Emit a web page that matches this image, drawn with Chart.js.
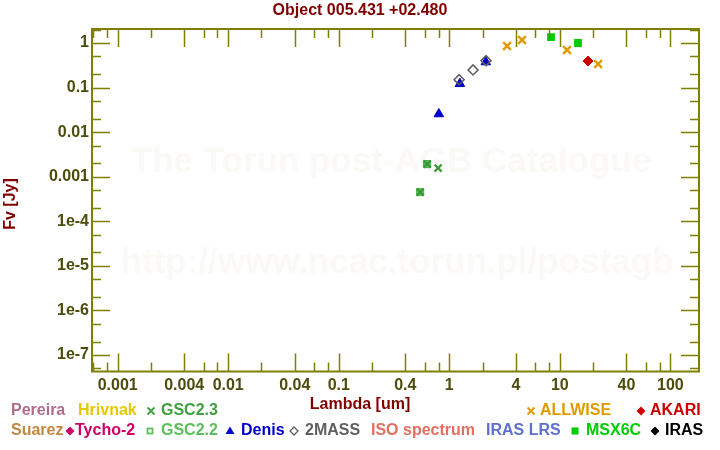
<!DOCTYPE html>
<html>
<head>
<meta charset="utf-8">
<script src="https://cdn.jsdelivr.net/npm/chart.js@4/dist/chart.umd.min.js"></script>
<style>
  body { margin: 0; background: #fff; }
  #wrap { width: 720px; height: 450px; }
</style>
</head>
<body>
<div id="wrap"><canvas id="sed" width="720" height="450"></canvas></div>
<script>
// photometry, wavelength in um, flux in Jy
const gsc23Lambda = [0.545, 0.630, 0.792];
const gsc23Flux = [4.51e-4, 1.92e-3, 1.56e-3];
const gsc22Lambda = [0.545, 0.630];
const gsc22Flux = [4.51e-4, 1.92e-3];
const denisLambda = [0.804, 1.247, 2.14];
const denisFlux = [0.0255, 0.122, 0.374];
const tmassLambda = [1.226, 1.64, 2.15];
const tmassFlux = [0.150, 0.248, 0.401];
const allwiseLambda = [3.33, 4.55, 11.6, 22.2];
const allwiseFlux = [0.856, 1.17, 0.697, 0.338];
const msxLambda = [8.32, 14.6];
const msxFlux = [1.36, 1.0];
const akariLambda = [18.0];
const akariFlux = [0.394];

// axis ticks
const xTickValues = [0.001, 0.004, 0.01, 0.04, 0.1, 0.4, 1, 4, 10, 40, 100];
const xTickLabels = ['0.001', '0.004', '0.01', '0.04', '0.1', '0.4', '1', '4', '10', '40', '100'];
const yTickValues = [1, 0.1, 0.01, 0.001, 1e-4, 1e-5, 1e-6, 1e-7];
const yTickLabels = ['1', '0.1', '0.01', '0.001', '1e-4', '1e-5', '1e-6', '1e-7'];

const AXIS = '#808000';
const TICKTXT = '#4c4c0c';
const DARKRED = '#800000';
const FONT = '"Liberation Sans", Arial, sans-serif';

const pts = (xs, ys) => xs.map((v, i) => ({ x: v, y: ys[i] }));

// legend rows: [text, color, marker, markerX, textX]
const legendRow1 = [
    ['Pereira', '#b06c8c', null, 0, 11],
    ['Hrivnak', '#e6c800', null, 0, 78],
    ['GSC2.3', '#40a040', 'cross', 151, 161],
    ['ALLWISE', '#e09a00', 'cross', 531, 540],
    ['AKARI', '#cc0000', 'diamond', 641, 650]
];
const legendRow2 = [
    ['Suarez', '#c08840', null, 0, 11],
    ['Tycho-2', '#cc0066', 'diamond', 70, 75],
    ['GSC2.2', '#5cc05c', 'square', 150, 161],
    ['Denis', '#0000cc', 'triangle', 230, 241],
    ['2MASS', '#606060', 'odiamond', 294, 305],
    ['ISO spectrum', '#e07060', null, 0, 371],
    ['IRAS LRS', '#6070d0', null, 0, 486],
    ['MSX6C', '#00cc00', 'fsquare', 575, 586],
    ['IRAS', '#000000', 'diamond', 655, 665]
];

function marker(ctx, kind, x, y, color) {
    ctx.fillStyle = color;
    ctx.strokeStyle = color;
    ctx.lineWidth = 1.8;
    ctx.beginPath();
    if (kind === 'cross') {
        ctx.moveTo(x - 3.5, y - 3.5); ctx.lineTo(x + 3.5, y + 3.5);
        ctx.moveTo(x + 3.5, y - 3.5); ctx.lineTo(x - 3.5, y + 3.5);
        ctx.stroke();
    } else if (kind === 'diamond') {
        ctx.moveTo(x, y - 4.5); ctx.lineTo(x + 4.5, y); ctx.lineTo(x, y + 4.5); ctx.lineTo(x - 4.5, y);
        ctx.closePath(); ctx.fill();
    } else if (kind === 'odiamond') {
        ctx.lineWidth = 1.3;
        ctx.moveTo(x, y - 4); ctx.lineTo(x + 4, y); ctx.lineTo(x, y + 4); ctx.lineTo(x - 4, y);
        ctx.closePath(); ctx.stroke();
    } else if (kind === 'square') {
        ctx.strokeRect(x - 2.5, y - 2.5, 5, 5);
    } else if (kind === 'fsquare') {
        ctx.fillRect(x - 3.5, y - 3.5, 7, 7);
    } else if (kind === 'triangle') {
        ctx.moveTo(x, y - 4.5); ctx.lineTo(x + 4.5, y + 3); ctx.lineTo(x - 4.5, y + 3);
        ctx.closePath(); ctx.fill();
    }
}

const decor = {
    id: 'decor',
    beforeDatasetsDraw(chart) {
        const { ctx } = chart;
        ctx.save();
        ctx.fillStyle = '#fbf9f5';
        ctx.font = 'bold 35px ' + FONT;
        ctx.textAlign = 'center';
        ctx.textBaseline = 'middle';
        ctx.fillText('The Torun post-AGB Catalogue', 391, 162);
        ctx.fillText('http://www.ncac.torun.pl/postagb', 397, 263);
        ctx.restore();
    },
    afterDraw(chart) {
        const { ctx, chartArea: a, scales: { x, y } } = chart;
        ctx.save();
        // frame
        ctx.strokeStyle = AXIS;
        ctx.lineWidth = 2;
        ctx.strokeRect(a.left, a.top, a.right - a.left, a.bottom - a.top);
        // inward ticks on all four sides
        ctx.lineWidth = 1.5;
        ctx.beginPath();
        for (let d = -4; d <= 2; d++) {
            [1, 2, 4, 6, 8].forEach(m => {
                const v = m * Math.pow(10, d);
                const px = Math.round(x.getPixelForValue(v)) + 0.5;
                if (px <= a.left + 1 || px >= a.right - 1) return;
                const len = (m === 1 || m === 4) ? 18 : 9;
                ctx.moveTo(px, a.bottom); ctx.lineTo(px, a.bottom - len);
                ctx.moveTo(px, a.top); ctx.lineTo(px, a.top + len);
            });
        }
        for (let d = -8; d <= 0; d++) {
            [1, 2, 5].forEach(m => {
                const v = m * Math.pow(10, d);
                const py = Math.round(y.getPixelForValue(v)) + 0.5;
                if (py <= a.top + 1 || py >= a.bottom - 1) return;
                const len = m === 1 ? 18 : 9;
                ctx.moveTo(a.left, py); ctx.lineTo(a.left + len, py);
                ctx.moveTo(a.right, py); ctx.lineTo(a.right - len, py);
            });
        }
        ctx.stroke();

        // titles
        ctx.font = 'bold 16px ' + FONT;
        ctx.fillStyle = DARKRED;
        ctx.textAlign = 'center';
        ctx.textBaseline = 'middle';
        ctx.fillText('Object 005.431 +02.480', 360, 11);
        ctx.fillText('Lambda [um]', 360, 405);
        ctx.save();
        ctx.translate(11, 204);
        ctx.rotate(-Math.PI / 2);
        ctx.fillText('Fv [Jy]', 0, 0);
        ctx.restore();

        // legend
        ctx.textAlign = 'left';
        [[legendRow1, 411], [legendRow2, 431]].forEach(([row, yy]) => {
            row.forEach(([txt, col, mk, mx, tx]) => {
                if (mk) marker(ctx, mk, mx, yy, col);
                ctx.fillStyle = col;
                ctx.fillText(txt, tx, yy);
            });
        });
        ctx.restore();
    }
};

new Chart(document.getElementById('sed'), {
    type: 'scatter',
    data: {
        datasets: [
            { label: 'AKARI', data: pts(akariLambda, akariFlux), pointStyle: 'rectRot', radius: 5,
              backgroundColor: '#cc0000', borderColor: '#cc0000', borderWidth: 1, order: 1 },
            { label: 'MSX6C', data: pts(msxLambda, msxFlux), pointStyle: 'rect', radius: 5.5,
              backgroundColor: '#00cc00', borderColor: '#00cc00', borderWidth: 0, order: 2 },
            { label: 'ALLWISE', data: pts(allwiseLambda, allwiseFlux), pointStyle: 'crossRot', radius: 5.5,
              backgroundColor: '#e09a00', borderColor: '#e09a00', borderWidth: 2.4, order: 3 },
            { label: '2MASS', data: pts(tmassLambda, tmassFlux), pointStyle: 'rectRot', radius: 5,
              backgroundColor: 'rgba(0,0,0,0)', borderColor: '#606060', borderWidth: 1.6, order: 4 },
            { label: 'Denis', data: pts(denisLambda, denisFlux), pointStyle: 'triangle', radius: 5.5,
              backgroundColor: '#0000cc', borderColor: '#0000cc', borderWidth: 1, order: 5 },
            { label: 'GSC2.3', data: pts(gsc23Lambda, gsc23Flux), pointStyle: 'crossRot', radius: 5,
              backgroundColor: '#3a9a3a', borderColor: '#3a9a3a', borderWidth: 2.2, order: 6 },
            { label: 'GSC2.2', data: pts(gsc22Lambda, gsc22Flux), pointStyle: 'rect', radius: 5,
              backgroundColor: '#5cc05c', borderColor: '#4cb44c', borderWidth: 1, order: 7 }
        ]
    },
    options: {
        responsive: false,
        animation: false,
        layout: { padding: { top: 29, right: 21, bottom: 0, left: 0 } },
        plugins: { legend: { display: false }, tooltip: { enabled: false }, title: { display: false } },
        scales: {
            x: {
                type: 'logarithmic',
                min: 5.86e-4,
                max: 181.5,
                grid: { display: false, drawTicks: false },
                border: { display: false },
                afterBuildTicks: s => { s.ticks = xTickValues.map(v => ({ value: v })); },
                afterFit: s => { s.height = 78.5; },
                ticks: {
                    autoSkip: false,
                    maxRotation: 0,
                    padding: 4,
                    color: TICKTXT,
                    font: { family: FONT, size: 16, weight: 'bold' },
                    callback: (v) => xTickLabels[xTickValues.indexOf(v)]
                }
            },
            y: {
                type: 'logarithmic',
                min: 4.26e-8,
                max: 2.06,
                grid: { display: false, drawTicks: false },
                border: { display: false },
                afterBuildTicks: s => { s.ticks = yTickValues.map(v => ({ value: v })); },
                afterFit: s => { s.width = 92; },
                ticks: {
                    autoSkip: false,
                    padding: 3,
                    color: TICKTXT,
                    font: { family: FONT, size: 16, weight: 'bold' },
                    callback: (v) => yTickLabels[yTickValues.indexOf(v)]
                }
            }
        }
    },
    plugins: [decor]
});
</script>
</body>
</html>
